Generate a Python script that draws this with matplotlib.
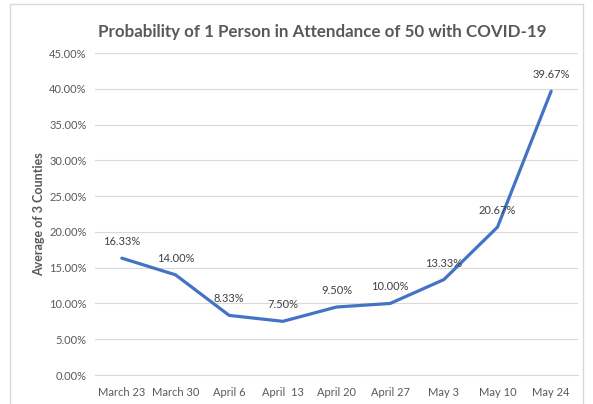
import matplotlib
matplotlib.use("Agg")
import matplotlib.pyplot as plt
from matplotlib.patches import Rectangle
from matplotlib.ticker import FuncFormatter, MultipleLocator

categories = ["March 23", "March 30", "April 6", "April  13", "April 20",
              "April 27", "May 3", "May 10", "May 24"]
values = [16.33, 14.00, 8.33, 7.50, 9.50, 10.00, 13.33, 20.67, 39.67]

plt.rcParams['font.family'] = ['Lato', 'DejaVu Sans']
gray = '#595959'

fig = plt.figure(figsize=(5.93, 4.04), dpi=100)
# outer chart frame
fig.patches.append(Rectangle((10/593, -0.05), (583-10)/593, 1.05 - 4/404,
                             transform=fig.transFigure, fill=False,
                             edgecolor='#d9d9d9', linewidth=1))

ax = fig.add_axes([95/593, 1 - 375/404, (578-95)/593, (375-53)/404])
x = list(range(len(categories)))
ax.plot(x, values, color='#4472C4', linewidth=2.3, solid_capstyle='round')
for xi, v in zip(x, values):
    ax.annotate(f"{v:.2f}%", (xi, v), xytext=(0, 8), textcoords='offset points',
                ha='center', va='bottom', fontsize=8, color='#404040')

ax.set_xlim(-0.5, len(categories) - 0.5)
ax.set_ylim(0, 45)
ax.yaxis.set_major_locator(MultipleLocator(5))
ax.yaxis.set_major_formatter(FuncFormatter(lambda v, p: f"{v:.2f}%"))
ax.set_xticks(x)
ax.set_xticklabels(categories)
ax.grid(axis='y', color='#d9d9d9', linewidth=0.8)
ax.set_axisbelow(True)
for s in ['top', 'right', 'left']:
    ax.spines[s].set_visible(False)
ax.spines['bottom'].set_color('#d9d9d9')
ax.tick_params(axis='both', length=0, labelsize=8, colors=gray, pad=6)
ax.tick_params(axis='x', pad=9)
ax.set_ylabel("Average of 3 Counties", fontsize=9, fontweight='bold',
              color=gray, labelpad=3)

fig.text(322/593, 1 - 32/404, "Probability of 1 Person in Attendance of 50 with COVID-19",
         ha='center', va='center', fontsize=12.2, fontweight='bold', color=gray)

fig.savefig("out.png", dpi=100)
